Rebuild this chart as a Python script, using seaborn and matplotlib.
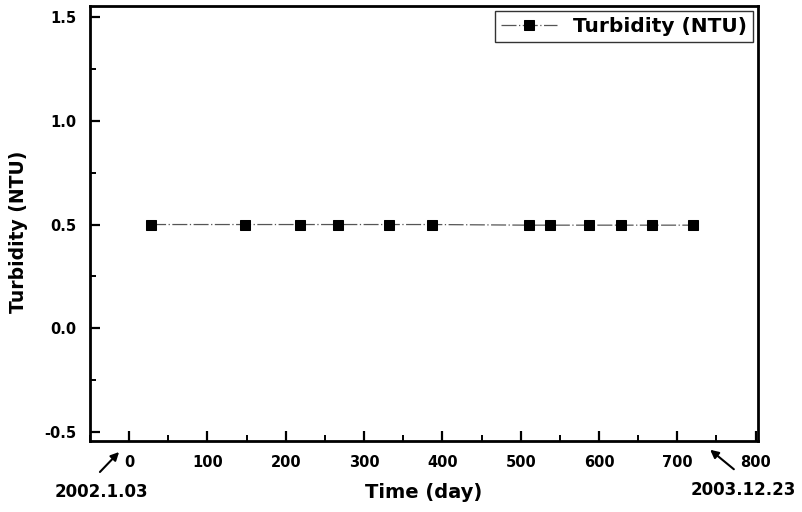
import matplotlib
matplotlib.use("Agg")
import matplotlib.pyplot as plt
import seaborn as sns
import pandas as pd
from matplotlib.ticker import MultipleLocator

days = [28, 148, 218, 267, 332, 387, 510, 538, 587, 628, 668, 720]
turbidity = [0.50, 0.50, 0.50, 0.50, 0.50, 0.50, 0.497, 0.497, 0.497, 0.497, 0.497, 0.497]
series_name = "Turbidity (NTU)"
xlabel = "Time (day)"
ylabel = "Turbidity (NTU)"
start_label = "2002.1.03"
end_label = "2003.12.23"

sns.set_style("ticks")
plt.rcParams["font.family"] = ["DejaVu Sans"]
plt.rcParams["font.weight"] = "bold"
for k in ["text.color", "axes.labelcolor", "xtick.color", "ytick.color"]:
    plt.rcParams[k] = "black"

df = pd.DataFrame({"day": days, "turb": turbidity, "series": series_name})

fig = plt.figure(figsize=(8.02, 5.12), dpi=100)
ax = fig.add_axes([90 / 802, 1 - 441 / 512, (758 - 90) / 802, (441 - 6) / 512])

sns.lineplot(data=df, x="day", y="turb", ax=ax, color="#555555", lw=0.9,
             linestyle=(0, (12, 2, 1, 2)), marker="s", markersize=7.5,
             markerfacecolor="black", markeredgecolor="black", label=series_name)

ax.set_xlim(-50, 803)
ax.set_ylim(-0.545, 1.555)
ax.xaxis.set_major_locator(MultipleLocator(100))
ax.xaxis.set_minor_locator(MultipleLocator(50))
ax.yaxis.set_major_locator(MultipleLocator(0.5))
ax.yaxis.set_minor_locator(MultipleLocator(0.25))
ax.yaxis.set_major_formatter(matplotlib.ticker.FormatStrFormatter("%.1f"))
ax.tick_params(which="major", direction="in", length=7, width=1.6, labelsize=10.5)
ax.tick_params(axis="x", which="major", pad=10)
ax.tick_params(axis="y", which="major", pad=10)
ax.tick_params(which="minor", direction="in", length=4, width=1.4)
for lab in ax.get_xticklabels() + ax.get_yticklabels():
    lab.set_fontweight("bold")
for s in ax.spines.values():
    s.set_linewidth(2)
    s.set_color("black")

ax.set_xlabel(xlabel, fontsize=14, fontweight="bold")
ax.set_ylabel(ylabel, fontsize=13.5, fontweight="bold")
ax.xaxis.set_label_coords((424 - 90) / 668, (441 - 493) / 435)
ax.yaxis.set_label_coords((19 - 90) / 668, (441 - 232) / 435)
ax.xaxis.label.set_va("center")
ax.yaxis.label.set_va("center")

leg = ax.legend(loc="upper right", frameon=True, fancybox=False, edgecolor="black",
                prop={"weight": "bold", "size": 14.5}, borderaxespad=0.25,
                handlelength=2.75, borderpad=0.3, handletextpad=0.8)
leg.get_frame().set_linewidth(1.0)

def fp(x, y):
    return (x / 802, 1 - y / 512)

fig.text(*fp(101, 492), start_label, ha="center", va="center", fontsize=12, fontweight="bold")
fig.text(*fp(743, 490), end_label, ha="center", va="center", fontsize=12, fontweight="bold")
ax.annotate("", xy=fp(121, 450), xytext=fp(98, 474), xycoords="figure fraction",
            textcoords="figure fraction",
            arrowprops=dict(arrowstyle="-|>", color="black", lw=1.5, mutation_scale=12))
ax.annotate("", xy=fp(708, 448), xytext=fp(736, 471), xycoords="figure fraction",
            textcoords="figure fraction",
            arrowprops=dict(arrowstyle="-|>", color="black", lw=1.5, mutation_scale=12))

fig.savefig("out.png", dpi=100)
